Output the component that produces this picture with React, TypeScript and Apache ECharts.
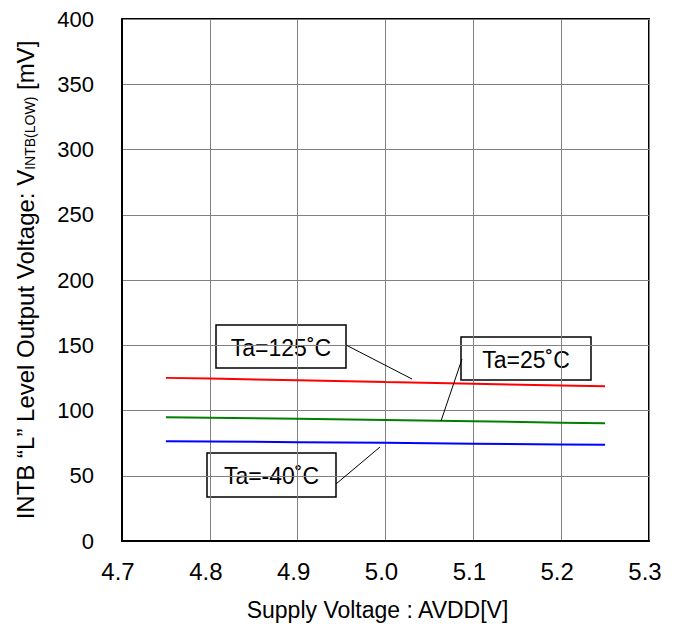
import React, { useEffect, useRef } from "react";
import * as echarts from "echarts";

const xValues = [4.75, 4.8, 4.9, 5.0, 5.1, 5.2, 5.25];
const ta125 = [125.0, 124.5, 123.2, 121.8, 120.5, 119.2, 118.5];
const ta25 = [94.8, 94.5, 93.6, 92.7, 91.8, 90.7, 90.2];
const taM40 = [76.5, 76.3, 75.7, 75.2, 74.6, 74.0, 73.7];
const xTicks = ["4.7", "4.8", "4.9", "5.0", "5.1", "5.2", "5.3"];
const seriesNames = ["Ta=125˚C", "Ta=25˚C", "Ta=-40˚C"];
const seriesColors = ["#ff0000", "#008000", "#0000ff"];

const FONT = "'Liberation Sans', Arial, sans-serif";

export default function App() {
  const ref = useRef<HTMLDivElement>(null);
  useEffect(() => {
    if (!ref.current) return;
    const chart = echarts.init(ref.current, undefined, { renderer: "svg" });
    const toPairs = (ys: number[]) => xValues.map((x, i) => [x, ys[i]]);
    const box = (x: number, y: number, w: number, h: number, text: string) => ({
      type: "group",
      x,
      y,
      z: 100,
      children: [
        {
          type: "rect",
          shape: { x: 0, y: 0, width: w, height: h },
          style: { fill: "#fff", stroke: "#000", lineWidth: 1.5 },
        },
        {
          type: "text",
          x: w / 2,
          y: h / 2 + 1,
          style: {
            text,
            font: `23px ${FONT}`,
            fill: "#000",
            align: "center",
            verticalAlign: "middle",
          },
        },
      ],
    });
    const leader = (x1: number, y1: number, x2: number, y2: number) => ({
      type: "line",
      z: 99,
      shape: { x1, y1, x2, y2 },
      style: { stroke: "#000", lineWidth: 1 },
    });
    chart.setOption({
      animation: false,
      backgroundColor: "#fff",
      grid: {
        left: 122,
        right: 31,
        top: 19,
        bottom: 89,
        show: true,
        borderColor: "#000",
        borderWidth: 2,
        backgroundColor: "transparent",
      },
      xAxis: {
        type: "value",
        min: 4.7,
        max: 5.3,
        interval: 0.1,
        axisLine: { show: true, lineStyle: { color: "#000", width: 2 } },
        axisTick: { show: false },
        splitLine: { show: true, lineStyle: { color: "#808080", width: 1 } },
        axisLabel: {
          color: "#000",
          fontFamily: FONT,
          fontSize: 24,
          margin: 18,
          padding: [0, 8, 0, 0],
          formatter: (v: number) => {
            const i = Math.round((v - 4.7) * 10);
            return xTicks[i] ?? v.toFixed(1);
          },
        },
        name: "Supply Voltage : AVDD[V]",
        nameLocation: "middle",
        nameGap: 57,
        nameTextStyle: {
          color: "#000",
          fontFamily: FONT,
          fontSize: 23,
          padding: [0, 16, 0, 0],
        },
      },
      yAxis: {
        type: "value",
        min: 0,
        max: 400,
        interval: 50,
        axisLine: { show: true, lineStyle: { color: "#000", width: 2 } },
        axisTick: { show: false },
        splitLine: { show: true, lineStyle: { color: "#808080", width: 1 } },
        axisLabel: { color: "#000", fontFamily: FONT, fontSize: 22, margin: 28 },
        name: "{a|INTB “L” Level Output Voltage: V}{s|INTB(LOW)}{a| [mV]}",
        nameLocation: "middle",
        nameRotate: 90,
        nameGap: 85,
        nameTextStyle: {
          color: "#000",
          fontFamily: FONT,
          fontSize: 24,
          rich: {
            a: { fontFamily: FONT, fontSize: 24, color: "#000" },
            s: { fontFamily: FONT, fontSize: 14, color: "#000", verticalAlign: "bottom", padding: [10, 0, 0, 0] },
          },
        },
      },
      series: [ta125, ta25, taM40].map((d, i) => ({
        name: seriesNames[i],
        type: "line",
        data: toPairs(d),
        showSymbol: false,
        symbol: "none",
        lineStyle: { color: seriesColors[i], width: 2 },
        itemStyle: { color: seriesColors[i] },
        z: 5,
      })),
      graphic: [
        leader(346, 345, 412, 379),
        leader(462, 359, 441, 421),
        leader(336, 484, 380, 447),
        box(216, 325, 130, 43, seriesNames[0]),
        box(461, 337, 130, 43, seriesNames[1]),
        box(207, 453, 129, 44, seriesNames[2]),
      ],
    });
    return () => chart.dispose();
  }, []);
  return (
    <div
      ref={ref}
      style={{ position: "fixed", left: 0, top: 0, width: 680, height: 630, background: "#fff" }}
    />
  );
}
